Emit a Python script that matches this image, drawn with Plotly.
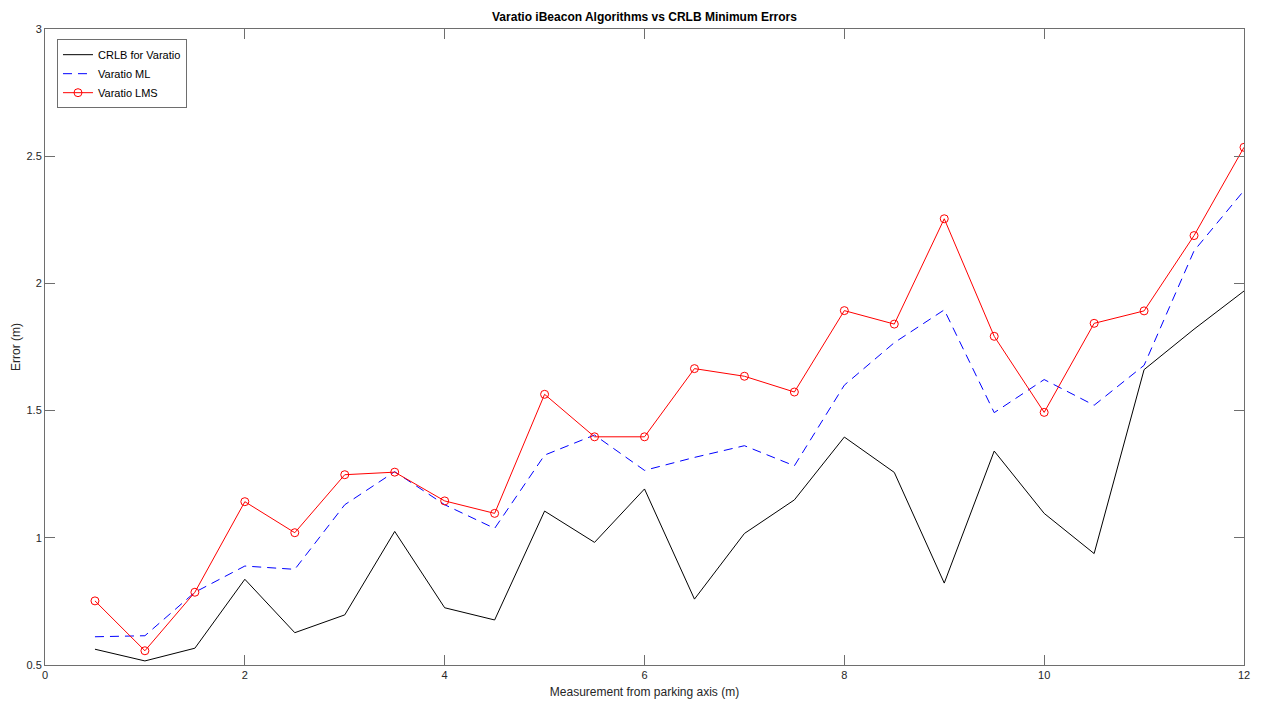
import plotly.graph_objects as go

x_vals = [0.5, 1, 1.5, 2, 2.5, 3, 3.5, 4, 4.5, 5, 5.5, 6, 6.5, 7, 7.5, 8,
          8.5, 9, 9.5, 10, 10.5, 11, 11.5, 12]
crlb = [0.562, 0.516, 0.566, 0.837, 0.627, 0.697, 1.025, 0.725, 0.677, 1.105,
        0.982, 1.192, 0.759, 1.017, 1.149, 1.396, 1.257, 0.822, 1.341, 1.096,
        0.938, 1.661, 1.82, 1.970]
ml = [0.611, 0.615, 0.786, 0.889, 0.876, 1.13, 1.26, 1.13, 1.037, 1.325,
      1.404, 1.265, 1.316, 1.362, 1.283, 1.60, 1.767, 1.896, 1.492, 1.622,
      1.521, 1.678, 2.128, 2.365]
lms = [0.752, 0.556, 0.786, 1.142, 1.02, 1.248, 1.258, 1.145, 1.096, 1.564,
       1.397, 1.397, 1.665, 1.635, 1.573, 1.893, 1.840, 2.254, 1.792, 1.493,
       1.843, 1.892, 2.188, 2.535]
x_ticks = [0, 2, 4, 6, 8, 10, 12]
y_ticks = [0.5, 1, 1.5, 2, 2.5, 3]

FONT = "Liberation Sans, Arial, Helvetica, sans-serif"
AX = "#6e6e6e"

fig = go.Figure()
fig.add_trace(go.Scatter(x=x_vals, y=crlb, mode="lines", name="CRLB for Varatio",
                         line=dict(color="black", width=1)))
fig.add_trace(go.Scatter(x=x_vals, y=ml, mode="lines", name="Varatio ML",
                         line=dict(color="blue", width=1, dash="9px,6px")))
fig.add_trace(go.Scatter(x=x_vals, y=lms, mode="lines+markers", name="Varatio LMS",
                         line=dict(color="red", width=1),
                         marker=dict(symbol="circle-open", size=8, color="red",
                                     line=dict(width=1, color="red"))))

axis_common = dict(showgrid=False, zeroline=False, showline=True, linecolor=AX,
                   linewidth=1, mirror="ticks", ticks="inside", ticklen=10,
                   tickcolor=AX, tickwidth=1, automargin=False,
                   tickfont=dict(family=FONT, size=11, color="#262626"))

fig.update_layout(
    width=1262, height=704,
    paper_bgcolor="white", plot_bgcolor="white",
    margin=dict(l=45, r=18, t=29, b=39),
    title=dict(text="<b>Varatio iBeacon Algorithms vs CRLB Minimum Errors</b>",
               x=(45 + 1244) / 2 / 1262, xanchor="center", y=1 - 17 / 704,
               yanchor="middle", font=dict(family=FONT, size=12, color="black")),
    xaxis=dict(range=[0, 12], tickvals=x_ticks, ticktext=[str(t) for t in x_ticks],
               title=dict(text="Measurement from parking axis (m)", standoff=7,
                          font=dict(family=FONT, size=12, color="#262626")),
               **axis_common),
    yaxis=dict(range=[0.5, 3], tickvals=y_ticks,
               ticktext=["0.5", "1", "1.5", "2", "2.5", "3"],
               title=dict(text="Error (m)", standoff=3,
                          font=dict(family=FONT, size=12, color="#262626")),
               **axis_common),
    legend=dict(x=0.01, y=0.984, xanchor="left", yanchor="top",
                bgcolor="white", bordercolor=AX, borderwidth=1,
                font=dict(family=FONT, size=11, color="black"),
                tracegroupgap=0, itemwidth=30),
    showlegend=True,
)

fig.write_html("out.html")
